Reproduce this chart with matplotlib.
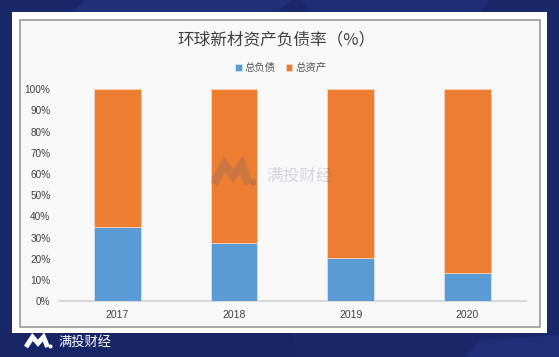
import matplotlib
matplotlib.use('Agg')
import numpy as np
import matplotlib.pyplot as plt
from matplotlib.patches import Rectangle, Polygon
from matplotlib.lines import Line2D

plt.rcParams['font.family'] = ['Noto Sans CJK SC', 'DejaVu Sans']

# data
years = ['2017', '2018', '2019', '2020']
debt = [35.0, 27.5, 20.3, 13.2]      # 总负债
assets = [65.0, 72.5, 79.7, 86.8]    # 总资产
yticks = [0, 10, 20, 30, 40, 50, 60, 70, 80, 90, 100]

W, H = 559, 357
fig = plt.figure(figsize=(W / 100, H / 100), dpi=100)
fig.patch.set_facecolor('#1a286a')


def fx(x):
    return x / W


def fy(y):
    return 1 - y / H


def frect(x0, y0, x1, y1, **kw):
    # rectangle given in pixel coords, top-down
    return Rectangle((fx(x0), fy(y1)), (x1 - x0) / W, (y1 - y0) / H,
                     transform=fig.transFigure, **kw)


def fpoly(pts, **kw):
    return Polygon([(fx(x), fy(y)) for x, y in pts], closed=True,
                   transform=fig.transFigure, **kw)


# background shapes
fig.add_artist(fpoly([(85, 0), (292, 0), (275, 14), (70, 14)], facecolor='#1f3079', lw=0, zorder=0.1))
fig.add_artist(fpoly([(300, 0), (490, 0), (478, 14), (312, 14)], facecolor='#1d2e76', lw=0, zorder=0.1))
fig.add_artist(fpoly([(0, 333), (290, 333), (300, 357), (0, 357)], facecolor='#172465', lw=0, zorder=0.1))
fig.add_artist(fpoly([(480, 340), (559, 335), (559, 357), (465, 357)], facecolor='#1e2f78', lw=0, zorder=0.1))

# white card with inner gray frame
fig.add_artist(frect(12, 12, 547, 333, facecolor='white', lw=0, zorder=0.2))
fig.add_artist(frect(19.5, 19.5, 540, 327, facecolor='#f8f8f8', edgecolor='#9a9a9a', lw=1.2, zorder=0.3))


def draw_logo(x0, y0, w, h, color, alpha, lw):
    xs = [0.0, 0.27, 0.5, 0.73, 0.9]
    ys = [1.0, 0.0, 0.62, 0.0, 1.0]
    fig.add_artist(Line2D([fx(x0 + a * w) for a in xs], [fy(y0 + b * h) for b in ys],
                          transform=fig.transFigure, color=color, alpha=alpha, lw=lw,
                          solid_joinstyle='miter', solid_capstyle='butt', zorder=10))
    fig.add_artist(Line2D([fx(x0 + 1.02 * w)], [fy(y0 + 0.92 * h)], transform=fig.transFigure,
                          marker='o', ms=lw * 0.55, color=color, alpha=alpha, lw=0, zorder=10))


# chart
ax = fig.add_axes([fx(58.8), fy(301.3), (525.8 - 58.8) / W, (301.3 - 89.3) / H])
ax.set_zorder(5)
ax.set_facecolor('none')
x = np.arange(len(years))
ax.bar(x, debt, 0.4, color='#5b9bd5', edgecolor='#dbe8f5', lw=0.5, label='总负债', zorder=3)
ax.bar(x, assets, 0.4, bottom=debt, color='#ed7d31', edgecolor='#f8d8c4', lw=0.5,
       label='总资产', zorder=3)
ax.set_xlim(-0.5, len(years) - 0.5)
ax.set_ylim(0, 100)
ax.set_xticks(x)
ax.set_xticklabels(years, fontsize=7.5, color='#404040', family='Liberation Sans')
ax.set_yticks(yticks)
ax.set_yticklabels([f'{v}%' for v in yticks], fontsize=7.2, color='#404040',
                   family='Liberation Sans')
ax.tick_params(length=0)
ax.tick_params(axis='y', pad=6)
ax.tick_params(axis='x', pad=6)
for s in ['top', 'right', 'left']:
    ax.spines[s].set_visible(False)
ax.spines['bottom'].set_color('#d9d9d9')
ax.spines['bottom'].set_linewidth(1.5)

ax.legend(loc='center', bbox_to_anchor=(fx(281), fy(68)), bbox_transform=fig.transFigure,
          ncol=2, frameon=False, fontsize=7.5, handlelength=0.6, handleheight=0.6,
          handletextpad=0.3, columnspacing=1.0, labelcolor='#555555')

fig.text(fx(276), fy(40), '环球新材资产负债率（%）', fontsize=12, color='#404040',
         ha='center', va='center', zorder=10)

# watermark
draw_logo(214, 164, 38, 20, '#5a6080', 0.22, 6)
fig.text(fx(266), fy(176), '满投财经', fontsize=12, color='#5a6080', alpha=0.22,
         ha='left', va='center', zorder=10)

# bottom-left brand
draw_logo(26, 337, 24, 10, 'white', 1.0, 3.5)
fig.text(fx(58), fy(342), '满投财经', fontsize=9.5, color='white', ha='left', va='center', zorder=10)

fig.savefig('out.png', dpi=100)
